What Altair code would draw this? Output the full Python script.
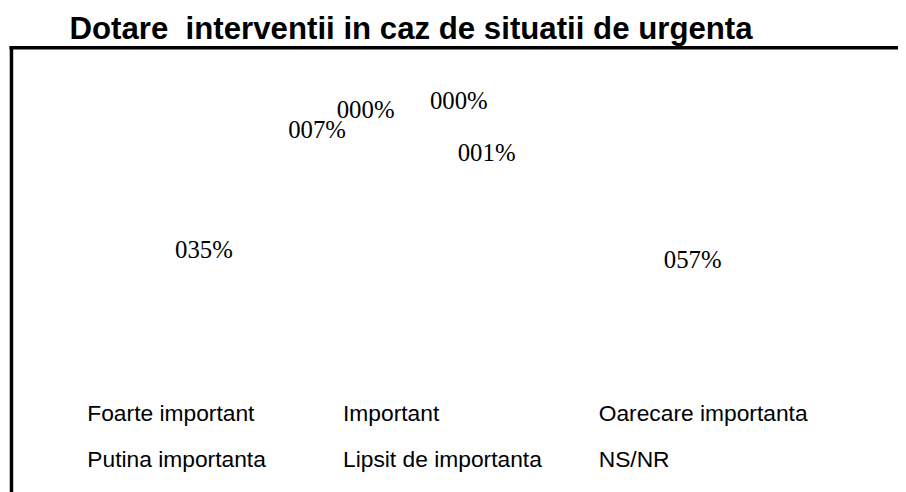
import math
import altair as alt
import pandas as pd

title_text = "Dotare\u00a0 interventii in caz de situatii de urgenta"
categories = [
    "Foarte important",
    "Important",
    "Oarecare importanta",
    "Putina importanta",
    "Lipsit de importanta",
    "NS/NR",
]
percent = [57, 35, 7, 0, 0, 1]

df = pd.DataFrame({"cat": categories, "value": percent})
df["end"] = df["value"].cumsum()
df["start"] = df["end"] - df["value"]
df["mid"] = (df["start"] + df["end"]) / 2
df["label"] = [f"{v:03d}%" for v in percent]

start_rad = math.radians(-4)
theta_scale = alt.Scale(range=[start_rad, start_rad + 2 * math.pi])

base = alt.Chart(df)

arcs = base.mark_arc(opacity=0, radius=200).encode(
    theta=alt.Theta("start:Q", scale=theta_scale, stack=False),
    theta2="end:Q",
    color=alt.Color(
        "cat:N",
        scale=alt.Scale(domain=categories, range=["#ffffff"] * len(categories)),
        legend=alt.Legend(
            title=None,
            orient="none",
            legendX=57,
            legendY=396,
            direction="horizontal",
            columns=3,
            gridAlign="all",
            columnPadding=24,
            rowPadding=22,
            labelFont="Liberation Sans",
            labelFontSize=23,
            labelColor="black",
            labelLimit=500,
            labelOffset=0,
            symbolOpacity=0,
            symbolSize=1,
            symbolStrokeWidth=0,
            padding=0,
        ),
    ),
)

label_style = dict(font="Liberation Serif", fontSize=25, color="black")

# (label radius, dx, dy) per slice, Excel "best fit" placement
placement = {
    "Foarte important": (247, 6, -2),
    "Important": (247, 3, 8),
    "Oarecare importanta": (130, -88, 29),
    "Putina importanta": (130, -67, 15),
    "Lipsit de importanta": (130, 27, 6),
    "NS/NR": (130, 51, 59),
}
labels = []
for name, (rad, ddx, ddy) in placement.items():
    labels.append(
        base.transform_filter(alt.datum.cat == name)
        .mark_text(radius=rad, dx=ddx, dy=ddy, **label_style)
        .encode(
            theta=alt.Theta("mid:Q", scale=theta_scale, stack=False),
            text="label:N",
        )
    )

title = alt.Chart(pd.DataFrame({"t": [title_text]})).mark_text(
    font="Liberation Sans", fontSize=31.5, fontWeight="bold",
    align="left", baseline="alphabetic", color="black",
).encode(x=alt.value(62), y=alt.value(29), text="t:N")

frame_df = pd.DataFrame({"k": [0]})
top_line = alt.Chart(frame_df).mark_rule(color="black", strokeWidth=3.5).encode(
    x=alt.value(1.5), x2=alt.value(910), y=alt.value(38), y2=alt.value(38)
)
left_line = alt.Chart(frame_df).mark_rule(color="black", strokeWidth=3.5).encode(
    x=alt.value(3.5), x2=alt.value(3.5), y=alt.value(36.5), y2=alt.value(490)
)

chart = (
    alt.layer(top_line, left_line, arcs, *labels, title)
    .properties(
        width=882,
        height=430,
        padding={"left": 0, "top": 0, "right": 16, "bottom": 54},
        autosize=alt.AutoSizeParams(type="none"),
        background="white",
    )
    .configure_view(strokeWidth=0)
)

chart.save("out.html", embed_options={"renderer": "svg", "actions": False})
